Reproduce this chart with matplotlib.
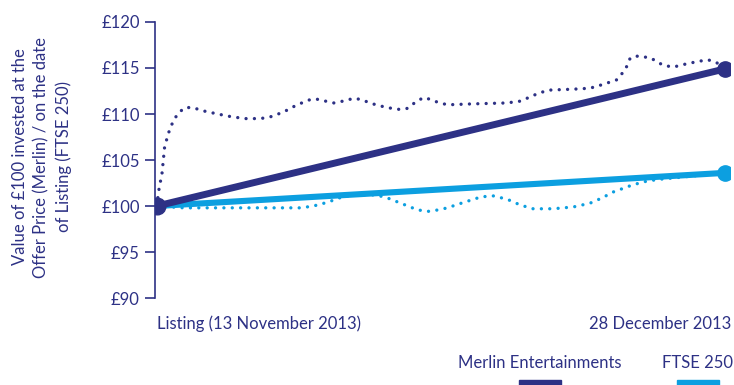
import numpy as np
import matplotlib
matplotlib.use("Agg")
import matplotlib.pyplot as plt

# dias desde a listagem (13 nov 2013) ate 28 dez 2013
merlin_dias = [0, 0.1, 0.4, 0.6, 0.9, 1.3, 1.7, 2.2, 2.8, 3.8, 4.8, 5.9, 7.0, 8.2, 9.0,
               10.0, 11.1, 12.2, 12.7, 14.0, 15.1, 15.5, 16.1, 17.1, 18.2, 19.2, 19.8,
               20.7, 21.2, 22.2, 23.0, 25.0, 27.7, 28.8, 30.3, 31.1, 33.0, 34.3, 35.3,
               36.4, 37.1, 37.5, 38.1, 39.1, 40.1, 40.9, 42.1, 43.6, 44.2, 45.0]
merlin_valor = [100.0, 101.4, 103.6, 106.4, 107.9, 109.3, 110.1, 110.7, 110.7, 110.3,
                110.0, 109.7, 109.5, 109.5, 109.7, 110.2, 111.0, 111.6, 111.6, 111.2,
                111.5, 111.7, 111.6, 111.1, 110.7, 110.5, 110.6, 111.5, 111.8, 111.3,
                111.0, 111.1, 111.2, 111.4, 112.3, 112.6, 112.7, 112.8, 113.2, 113.7,
                114.8, 116.1, 116.3, 116.1, 115.3, 115.1, 115.5, 115.9, 115.7, 115.0]

ftse_dias = [0, 2.1, 7.4, 11.4, 12.4, 13.5, 14.5, 15.5, 17.4, 18.4, 19.5, 20.6, 21.4,
             22.4, 23.0, 24.1, 25.7, 26.7, 27.8, 28.8, 29.8, 31.4, 33.0, 34.3, 35.3,
             36.1, 37.7, 38.8, 39.8, 45.0]
ftse_valor = [100.0, 99.8, 99.8, 99.8, 100.0, 100.4, 100.9, 101.2, 101.2, 100.8, 100.2,
              99.6, 99.4, 99.6, 99.8, 100.3, 101.0, 101.1, 100.7, 100.1, 99.7, 99.7,
              99.9, 100.3, 100.9, 101.5, 102.3, 102.7, 102.9, 103.6]

inicio_fim = [0, 45]
merlin_linha = [100, 114.9]
ftse_linha = [100, 103.6]

y_ticks = [90, 95, 100, 105, 110, 115, 120]

azul_escuro = "#2d3185"
azul_claro = "#0c9fe0"
fs = 12

plt.rcParams["font.family"] = ["Lato", "DejaVu Sans"]

fig = plt.figure(figsize=(7.34, 3.85), dpi=100)
ax = fig.add_axes([155 / 734, 1 - 298 / 385, 575 / 734, 276 / 385])

pontilhado = (0, (0.01, 2.5))
ax.plot(ftse_dias, ftse_valor, color=azul_claro, lw=2.4, ls=pontilhado,
        dash_capstyle="round", zorder=2)
ax.plot(merlin_dias, merlin_valor, color=azul_escuro, lw=2.4, ls=pontilhado,
        dash_capstyle="round", zorder=2)

ax.plot(inicio_fim, ftse_linha, color=azul_claro, lw=4.4, solid_capstyle="butt", zorder=3)
ax.plot(inicio_fim, merlin_linha, color=azul_escuro, lw=5.0, solid_capstyle="butt", zorder=4)
ax.plot(inicio_fim[1], ftse_linha[1], "o", color=azul_claro, ms=11, zorder=5)
ax.plot(inicio_fim[1], merlin_linha[1], "o", color=azul_escuro, ms=11, zorder=5)
ax.plot(inicio_fim[0], merlin_linha[0], "o", color=azul_escuro, ms=12, zorder=6)

ax.set_xlim(-0.16, 45.4)
ax.set_ylim(90, 120)
ax.set_yticks(y_ticks)
ax.set_yticklabels(["£%d" % v for v in y_ticks], color=azul_escuro, fontsize=fs)
ax.set_xticks([])
ax.tick_params(axis="y", direction="out", length=7, width=1.2, color=azul_escuro, pad=4)
for lado in ["top", "right", "bottom"]:
    ax.spines[lado].set_visible(False)
ax.spines["left"].set_color(azul_escuro)
ax.spines["left"].set_linewidth(1.2)

fig.text(42 / 734, 1 - 157 / 385,
         "Value of £100 invested at the\nOffer Price (Merlin) / on the date\nof Listing (FTSE 250)",
         rotation=90, ha="center", va="center", color=azul_escuro, fontsize=fs,
         linespacing=1.45)

fig.text(157 / 734, 1 - 324 / 385, "Listing (13 November 2013)", ha="left", va="center",
         color=azul_escuro, fontsize=fs)
fig.text(731 / 734, 1 - 324 / 385, "28 December 2013", ha="right", va="center",
         color=azul_escuro, fontsize=fs)

fig.text(540 / 734, 1 - 363 / 385, "Merlin Entertainments", ha="center", va="center",
         color=azul_escuro, fontsize=fs)
fig.text(697 / 734, 1 - 363 / 385, "FTSE 250", ha="center", va="center",
         color=azul_escuro, fontsize=fs)
fig.add_artist(plt.Rectangle((519 / 734, 0), 42 / 734, 5 / 385, color=azul_escuro,
                             transform=fig.transFigure))
fig.add_artist(plt.Rectangle((677 / 734, 0), 42 / 734, 5 / 385, color=azul_claro,
                             transform=fig.transFigure))

fig.savefig("out.png", dpi=100)
